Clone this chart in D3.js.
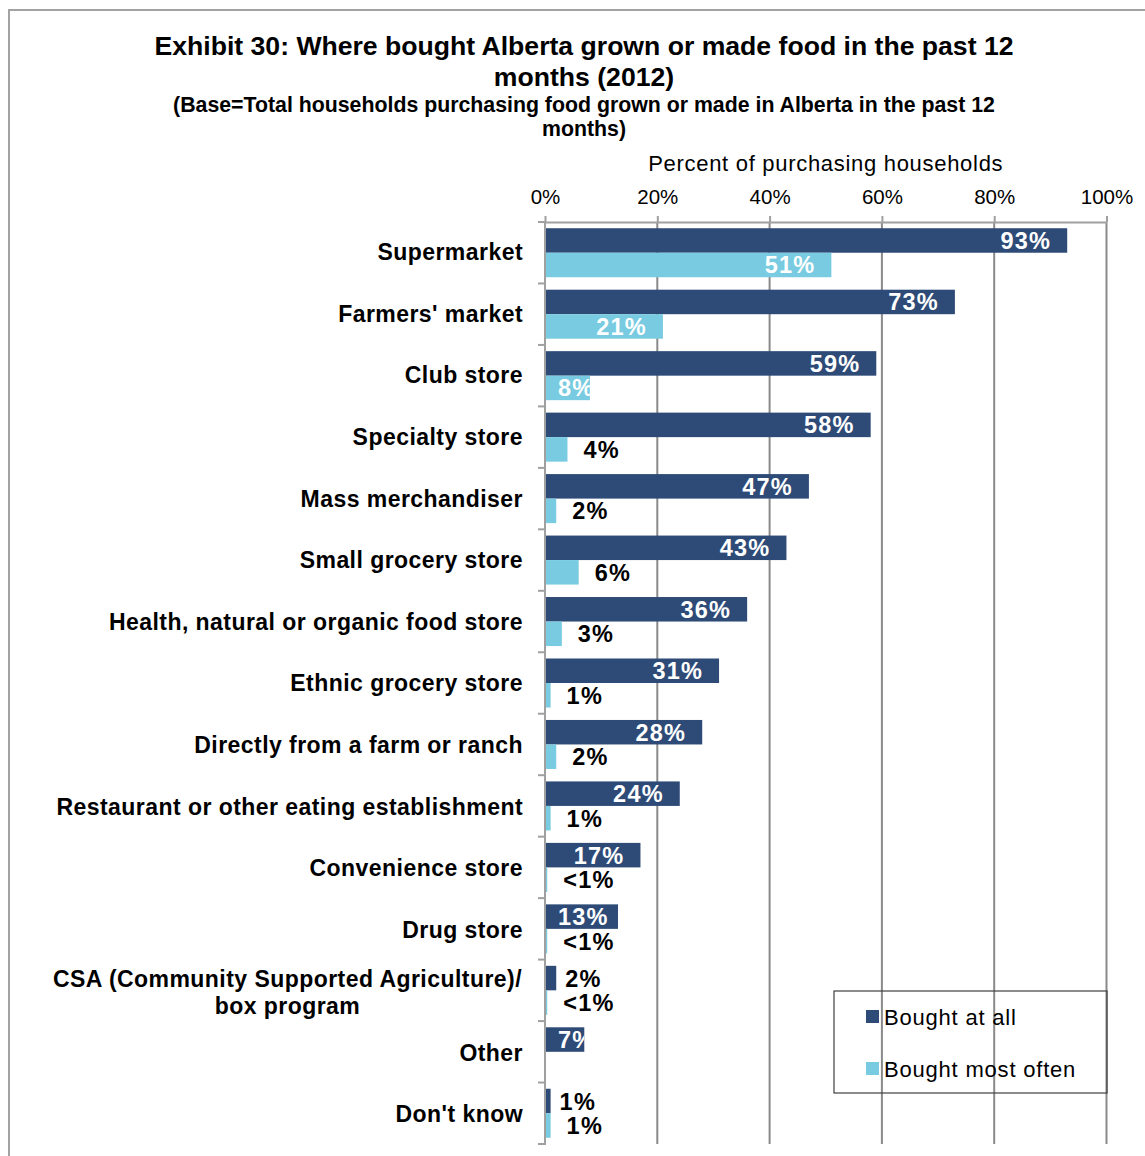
<!DOCTYPE html>
<html>
<head>
<meta charset="utf-8">
<script src="https://cdn.jsdelivr.net/npm/d3@7"></script>
<style>
  body { margin: 0; background: #fff; }
  svg { display: block; font-family: "Liberation Sans", Arial, sans-serif; }
</style>
</head>
<body>
<svg id="chart" width="1145" height="1156"></svg>
<script>
// Outlets, top to bottom. "\n" marks a forced line break in the label.
const categories = [
  "Supermarket",
  "Farmers' market",
  "Club store",
  "Specialty store",
  "Mass merchandiser",
  "Small grocery store",
  "Health, natural or organic food store",
  "Ethnic grocery store",
  "Directly from a farm or ranch",
  "Restaurant or other eating establishment",
  "Convenience store",
  "Drug store",
  "CSA (Community Supported Agriculture)/\nbox program",
  "Other",
  "Don't know"
];

// Percent of purchasing households
const boughtAtAll     = [93, 73, 59, 58, 47, 43, 36, 31, 28, 24, 17, 13, 2, 7, 1];
// 0.4 stands for the "<1%" answers; null = no answer reported
const boughtMostOften = [51, 21, 8, 4, 2, 6, 3, 1, 2, 1, 0.4, 0.4, 0.4, null, 1];

const seriesNames = ["Bought at all", "Bought most often"];
const seriesColors = ["#2e4b77", "#78cbe0"];

const tickValues = [0, 20, 40, 60, 80, 100];

const titleLines = [
  "Exhibit 30: Where bought Alberta grown or made food in the past 12",
  "months (2012)"
];
const subtitleLines = [
  "(Base=Total households purchasing food grown or made in Alberta in the past 12",
  "months)"
];
const axisTitle = "Percent of purchasing households";

const svg = d3.select("#chart");
const fontStack = "'Liberation Sans', Arial, sans-serif";

// outer chart frame
svg.append("rect")
  .attr("x", 9).attr("y", 10)
  .attr("width", 1160).attr("height", 1170)
  .attr("fill", "none")
  .attr("stroke", "#a3a3a3")
  .attr("stroke-width", 2);

// titles
const titleX = 584;
svg.append("g").selectAll("text")
  .data(titleLines).join("text")
  .attr("x", titleX)
  .attr("y", (d, i) => 55 + i * 31)
  .attr("text-anchor", "middle")
  .attr("font-weight", "bold")
  .attr("font-size", 26.6)
  .attr("fill", "#000")
  .text(d => d);

svg.append("g").selectAll("text")
  .data(subtitleLines).join("text")
  .attr("x", titleX)
  .attr("y", (d, i) => 112 + i * 24)
  .attr("text-anchor", "middle")
  .attr("font-weight", "bold")
  .attr("font-size", 21.3)
  .attr("fill", "#000")
  .text(d => d);

// plot area
const plot = { left: 545, right: 1106.5, top: 222, bottom: 1144 };

const x = d3.scaleLinear().domain([0, 100]).range([plot.left, plot.right]);
const y = d3.scaleBand().domain(categories).range([plot.top, plot.bottom]).padding(0);
const ySub = d3.scaleBand().domain(seriesNames).range([0, y.bandwidth()])
  .paddingInner(0).paddingOuter(0.254);

const gridColor = "#8a8a8a";
const axisColor = "#a0a0a0";

// vertical gridlines
svg.append("g").selectAll("line")
  .data(tickValues.filter(v => v > 0)).join("line")
  .attr("x1", d => x(d)).attr("x2", d => x(d))
  .attr("y1", plot.top).attr("y2", plot.bottom)
  .attr("stroke", gridColor)
  .attr("stroke-width", 2);

// top value axis
const xAxis = d3.axisTop(x)
  .tickValues(tickValues)
  .tickFormat(d => d + "%")
  .tickSize(6)
  .tickSizeOuter(0)
  .tickPadding(12);

const gx = svg.append("g")
  .attr("transform", `translate(0,${plot.top})`)
  .call(xAxis);
gx.select(".domain").attr("stroke", axisColor).attr("stroke-width", 2);
gx.selectAll(".tick line").attr("stroke", axisColor).attr("stroke-width", 2);
gx.selectAll(".tick text")
  .attr("font-family", fontStack)
  .attr("font-size", 20.5)
  .attr("fill", "#000");

svg.append("text")
  .attr("x", (plot.left + plot.right) / 2)
  .attr("y", 171)
  .attr("text-anchor", "middle")
  .attr("font-size", 22)
  .attr("letter-spacing", 0.7)
  .attr("fill", "#000")
  .text(axisTitle);

// data
const rows = categories.map((c, i) => ({
  category: c,
  values: [
    { series: seriesNames[0], value: boughtAtAll[i], idx: 0 },
    { series: seriesNames[1], value: boughtMostOften[i], idx: 1 }
  ].filter(d => d.value !== null)
}));

const defs = svg.append("defs");
const barsG = svg.append("g");
const labelsG = svg.append("g");

const labelFont = 23.5;
const fmt = v => (v < 1 ? "<1%" : v + "%");

rows.forEach((row, ri) => {
  row.values.forEach(d => {
    const by = y(row.category) + ySub(d.series);
    const bh = ySub.bandwidth();
    const bx = x(0);
    const bw = x(d.value) - x(0);

    barsG.append("rect")
      .attr("x", bx).attr("y", by)
      .attr("width", bw).attr("height", bh)
      .attr("fill", seriesColors[d.idx]);

    const cy = by + bh / 2 + 8.5;
    const inside = d.value >= 7;
    if (inside) {
      const clipId = `clip-${ri}-${d.idx}`;
      defs.append("clipPath").attr("id", clipId)
        .append("rect")
        .attr("x", bx).attr("y", by)
        .attr("width", bw).attr("height", bh);
      const t = labelsG.append("text")
        .attr("clip-path", `url(#${clipId})`)
        .attr("y", cy)
        .attr("font-weight", "bold")
        .attr("font-size", labelFont)
        .attr("letter-spacing", 1.2)
        .attr("fill", "#fff")
        .text(fmt(d.value));
      const w = t.node().getComputedTextLength();
      const start = Math.max(x(d.value) - 16 - w, x(0) + 13);
      t.attr("x", start);
    } else {
      const gap = d.idx === 0 ? 9 : 16;
      labelsG.append("text")
        .attr("x", x(d.value) + gap)
        .attr("y", cy)
        .attr("font-weight", "bold")
        .attr("font-size", labelFont)
        .attr("letter-spacing", 1.2)
        .attr("fill", "#000")
        .text(fmt(d.value));
    }
  });
});

// category axis: line with ticks at band boundaries
const boundaries = categories.map(c => y(c)).concat([y.range()[1]]);
const gy = svg.append("g");
gy.append("line")
  .attr("x1", plot.left).attr("x2", plot.left)
  .attr("y1", plot.top - 1).attr("y2", plot.bottom + 1)
  .attr("stroke", axisColor).attr("stroke-width", 2);
gy.selectAll("line.tick")
  .data(boundaries).join("line")
  .attr("class", "tick")
  .attr("x1", plot.left - 7).attr("x2", plot.left)
  .attr("y1", d => d).attr("y2", d => d)
  .attr("stroke", axisColor).attr("stroke-width", 2);

// category labels
const catFont = 23;
const catSpacing = 0.45;
const catG = svg.append("g");
categories.forEach((c, i) => {
  const lines = c.split("\n");
  const cy = y(c) + y.bandwidth() / 2 + 7.5 + i * 0.12;
  const lh = 27;
  const t = catG.append("text")
    .attr("font-weight", "bold")
    .attr("font-size", catFont)
    .attr("letter-spacing", catSpacing)
    .attr("fill", "#000");
  if (lines.length === 1) {
    t.attr("x", plot.left - 22).attr("y", cy)
      .attr("text-anchor", "end")
      .text(c);
  } else {
    // multi-line labels are centred under the longest line
    const probe = catG.append("text")
      .attr("font-weight", "bold").attr("font-size", catFont)
      .attr("letter-spacing", catSpacing).text(lines[0]);
    const w = probe.node().getComputedTextLength();
    probe.remove();
    const mid = plot.left - 23 - w / 2;
    t.attr("text-anchor", "middle");
    lines.forEach((ln, k) => {
      t.append("tspan")
        .attr("x", mid)
        .attr("y", cy - lh / 2 + k * lh + 1)
        .text(ln);
    });
  }
});

// legend
const legend = { x: 834, y: 991, w: 273, h: 102 };
const lg = svg.append("g");
lg.append("rect")
  .attr("x", legend.x).attr("y", legend.y)
  .attr("width", legend.w).attr("height", legend.h)
  .attr("fill", "none")
  .attr("stroke", "#404040")
  .attr("stroke-width", 1.2);
seriesNames.forEach((name, i) => {
  const rowY = legend.y + 26 + i * 52;
  lg.append("rect")
    .attr("x", legend.x + 32).attr("y", rowY - 7)
    .attr("width", 13).attr("height", 13)
    .attr("fill", seriesColors[i]);
  lg.append("text")
    .attr("x", legend.x + 50).attr("y", rowY + 8)
    .attr("font-size", 22)
    .attr("letter-spacing", 0.8)
    .attr("fill", "#000")
    .text(name);
});
</script>
</body>
</html>
